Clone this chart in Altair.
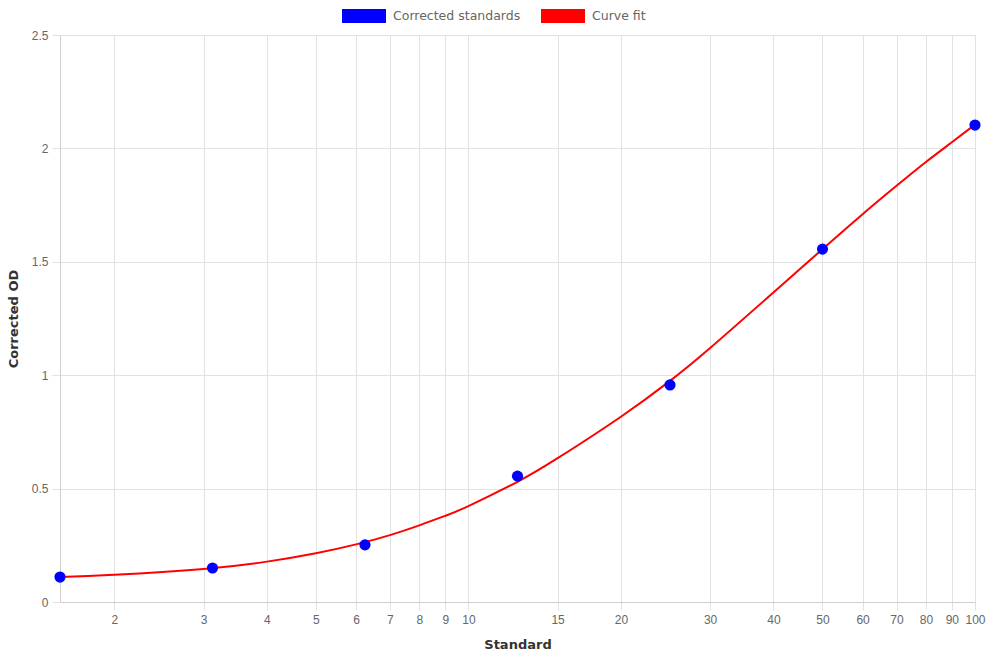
import altair as alt
import pandas as pd

# Standards (points)
std_x = [1.5625, 3.125, 6.25, 12.5, 25, 50, 100]
std_od = [0.110, 0.150, 0.252, 0.555, 0.957, 1.556, 2.103]

# Curve fit
fit_x = [1.5625, 2, 3, 4, 5, 6, 7, 8, 9, 10, 12.5, 15, 20, 25, 30, 40, 50, 60, 70, 80, 90, 100]
fit_od = [0.110, 0.120, 0.146, 0.178, 0.215, 0.254, 0.295, 0.338, 0.380, 0.423, 0.530, 0.634,
          0.817, 0.975, 1.120, 1.365, 1.556, 1.710, 1.835, 1.940, 2.027, 2.105]

series = ["Corrected standards", "Curve fit"]
series_colors = ["#0000ff", "#ff0000"]

x_ticks = [2, 3, 4, 5, 6, 7, 8, 9, 10, 15, 20, 30, 40, 50, 60, 70, 80, 90, 100]
y_ticks = [0, 0.5, 1, 1.5, 2, 2.5]

pts = pd.DataFrame({"x": std_x, "y": std_od, "series": series[0]})
fit = pd.DataFrame({"x": fit_x, "y": fit_od})

grid_col = "#e2e2e2"
label_col = "#666666"
title_font = "DejaVu Sans"

x_enc = alt.X(
    "x:Q",
    scale=alt.Scale(type="log", domain=[1.5625, 100], nice=False),
    axis=alt.Axis(
        title="Standard", values=x_ticks, format="~g",
        grid=True, gridColor=grid_col, tickColor=grid_col, tickSize=8,
        domainColor="#cfcfcf", labelColor=label_col, labelFont="Liberation Sans",
        labelFontSize=12, labelPadding=4, labelFlush=False, labelOverlap=False,
        titleFont=title_font, titleFontWeight="bold", titleFontSize=13,
        titleColor="#333333", titlePadding=13,
    ),
)
y_enc = alt.Y(
    "y:Q",
    scale=alt.Scale(domain=[0, 2.5], nice=False),
    axis=alt.Axis(
        title="Corrected OD", values=y_ticks, format="~g",
        grid=True, gridColor=grid_col, tickColor=grid_col, tickSize=8,
        domainColor="#cfcfcf", labelColor=label_col, labelFont="Liberation Sans",
        labelFontSize=12, labelPadding=4,
        titleFont=title_font, titleFontWeight="bold", titleFontSize=13,
        titleColor="#333333", titlePadding=11,
    ),
)

line = alt.Chart(fit).mark_line(color="#ff0000", strokeWidth=2, interpolate="natural", clip=False).encode(
    x=x_enc, y=y_enc
)

points = alt.Chart(pts).mark_point(filled=True, size=125, opacity=1).encode(
    x=x_enc,
    y=y_enc,
    color=alt.Color(
        "series:N",
        scale=alt.Scale(domain=series, range=series_colors),
        legend=alt.Legend(
            title=None, orient="none", direction="horizontal",
            legendX=282, legendY=-41, padding=0,
            symbolType="M-1,-0.318H1V0.318H-1Z", symbolSize=1936,
            symbolStrokeWidth=0, symbolOpacity=1,
            labelFont=title_font, labelFontSize=12.5, labelColor=label_col,
            labelOffset=7, columnPadding=20,
        ),
    ),
)

chart = (
    alt.layer(line, points)
    .properties(
        width=915, height=567,
        autosize=alt.AutoSizeParams(type="none"),
        padding={"left": 60, "top": 35, "right": 15, "bottom": 58},
    )
    .configure_view(stroke=None)
    .configure(background="white")
)

chart.save("out.html", embed_options={"renderer": "svg", "actions": False})
